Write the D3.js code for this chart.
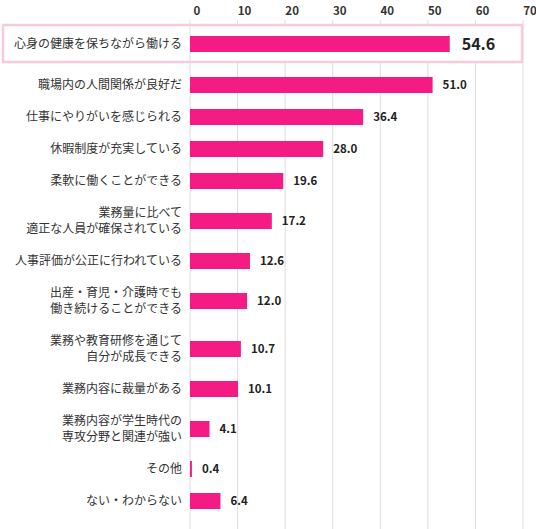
<!DOCTYPE html><html><head><meta charset="utf-8"><script src="https://cdn.jsdelivr.net/npm/d3@7"></script>
<style>body{margin:0;background:#fff}text{font-family:"Noto Sans CJK JP","Noto Sans",sans-serif}</style></head><body><svg id="c" width="536" height="529"></svg><script>
const categories=["心身の健康を保ちながら働ける","職場内の人間関係が良好だ","仕事にやりがいを感じられる","休暇制度が充実している","柔軟に働くことができる","業務量に比べて\n適正な人員が確保されている","人事評価が公正に行われている","出産・育児・介護時でも\n働き続けることができる","業務や教育研修を通じて\n自分が成長できる","業務内容に裁量がある","業務内容が学生時代の\n専攻分野と関連が強い","その他","ない・わからない"];
const values=[54.6,51.0,36.4,28.0,19.6,17.2,12.6,12.0,10.7,10.1,4.1,0.4,6.4];
const ticks=[0,10,20,30,40,50,60,70];
const svg=d3.select("#c");
const x=d3.scaleLinear().domain([0,70]).range([190,523]);
const ys=[];let y=44;
categories.forEach((c,i)=>{if(i===0){ys.push(44);y=85;return;}
 if(i>1){const p=categories[i-1].includes("\n")?24:16,q=c.includes("\n")?24:16;y+=p+q;}
 ys.push(y);});
svg.selectAll(".g").data(ticks).join("line").attr("x1",d=>x(d)).attr("x2",d=>x(d)).attr("y1",20).attr("y2",529).attr("stroke","#ddd").attr("stroke-width",1);
svg.append("rect").attr("x",3).attr("y",25).attr("width",519).attr("height",37).attr("fill","#fff").attr("stroke","#f9c9de").attr("stroke-width",2.5);
svg.append("line").attr("x1",x(0)).attr("x2",x(0)).attr("y1",26).attr("y2",61).attr("stroke","#ddd");
svg.selectAll(".tl").data(ticks).join("text").attr("x",d=>x(d)+7).attr("y",15).attr("text-anchor","middle").attr("font-size",11.5).attr("font-weight","bold").attr("fill","#333").text(d=>d);
categories.forEach((c,i)=>{
 const cy=ys[i];
 svg.append("rect").attr("x",x(0)).attr("y",cy-8).attr("width",x(values[i])-x(0)).attr("height",16).attr("fill","#f51b85");
 const lines=c.split("\n");
 const t=svg.append("text").attr("text-anchor","end").attr("font-size",12).attr("fill","#333");
 lines.forEach((l,k)=>t.append("tspan").attr("x",182).attr("y",cy+4+(k-(lines.length-1)/2)*16).text(l));
 svg.append("text").attr("x",x(values[i])+(i===0?12:10)).attr("y",cy+(i===0?6:4)).attr("font-size",i===0?16:11.5).attr("font-weight","bold").attr("fill","#222").text(values[i].toFixed(1));
});
</script></body></html>
